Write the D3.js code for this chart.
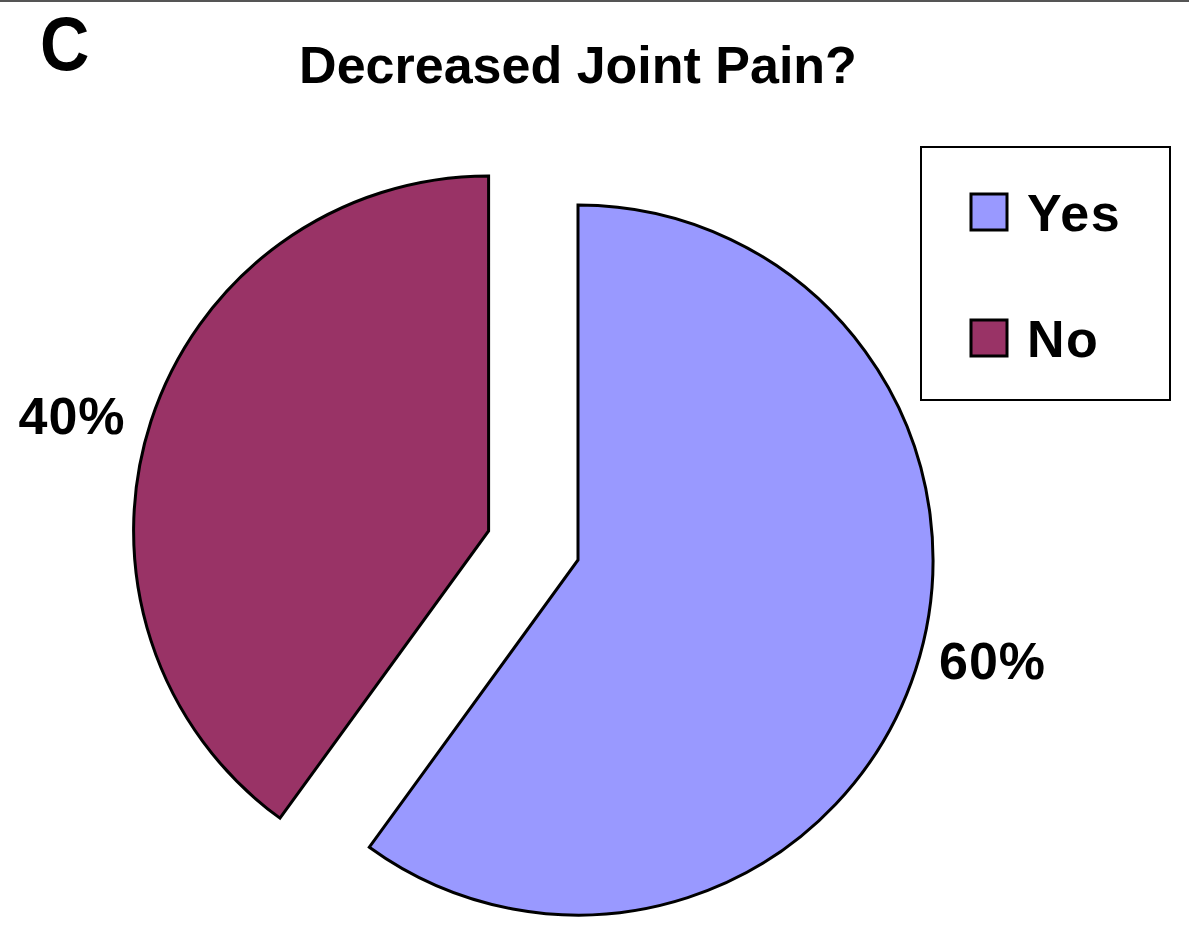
<!DOCTYPE html>
<html>
<head>
<meta charset="utf-8">
<script src="https://cdn.jsdelivr.net/npm/d3@7"></script>
<style>
  body { margin: 0; background: #fff; }
  svg { display: block; font-family: "Liberation Sans", Arial, sans-serif; font-weight: bold; }
</style>
</head>
<body>
<svg id="chart"></svg>
<script>
const categories = ['Yes', 'No'];
const values = [60, 40];
const labels = ['60%', '40%'];
const colors = ['#9999ff', '#993366'];

const width = 1189, height = 930;
const svg = d3.select('#chart')
  .attr('width', width)
  .attr('height', height);

svg.append('rect').attr('width', width).attr('height', height).attr('fill', '#fff');

// thin rule along the top edge
svg.append('line')
  .attr('x1', 0).attr('x2', width)
  .attr('y1', 1).attr('y2', 1)
  .attr('stroke', '#555').attr('stroke-width', 2);

svg.append('text')
  .attr('transform', 'translate(40,70) scale(0.9,1)')
  .attr('font-size', 76)
  .text('C');

svg.append('text')
  .attr('x', 578).attr('y', 83)
  .attr('text-anchor', 'middle')
  .attr('font-size', 52)
  .text('Decreased Joint Pain?');

// pie
const cx = 578, cy = 560, r = 355, explode = 94;
const data = categories.map((c, i) => ({ name: c, value: values[i], label: labels[i], color: colors[i] }));

const pie = d3.pie().value(d => d.value).sort(null);
const arc = d3.arc().innerRadius(0).outerRadius(r);
const labelArc = d3.arc().innerRadius(r + 12).outerRadius(r + 12);

const slices = pie(data);

const g = svg.append('g').attr('transform', `translate(${cx},${cy})`);

slices.forEach((s, i) => {
  // only the "No" slice is pulled out
  const mid = (s.startAngle + s.endAngle) / 2;
  const off = i === 1 ? explode : 0;
  const dx = Math.sin(mid) * off, dy = -Math.cos(mid) * off;
  const sg = g.append('g').attr('transform', `translate(${dx},${dy})`);
  sg.append('path')
    .attr('d', arc(s))
    .attr('fill', s.data.color)
    .attr('stroke', '#000')
    .attr('stroke-width', 3)
    .attr('stroke-linejoin', 'miter');

  const [lx, ly] = labelArc.centroid(s);
  const right = Math.sin(mid) > 0;
  sg.append('text')
    .attr('x', lx + (right ? 12 : -14))
    .attr('y', ly + (right ? 6 : 16))
    .attr('text-anchor', right ? 'start' : 'end')
    .attr('font-size', 52)
    .attr('letter-spacing', 1)
    .text(s.data.label);
});

// legend
const legend = svg.append('g').attr('transform', 'translate(921,147)');
legend.append('rect')
  .attr('width', 249).attr('height', 253)
  .attr('fill', '#fff')
  .attr('stroke', '#000').attr('stroke-width', 2);

const ly = d3.scalePoint().domain(categories).range([64, 190]);
categories.forEach((c, i) => {
  legend.append('rect')
    .attr('x', 50).attr('y', ly(c) - 17)
    .attr('width', 36).attr('height', 36)
    .attr('fill', colors[i])
    .attr('stroke', '#000').attr('stroke-width', 3);
  legend.append('text')
    .attr('x', 106).attr('y', ly(c) + 20)
    .attr('font-size', 52)
    .attr('letter-spacing', 1.5)
    .text(c);
});
</script>
</body>
</html>
